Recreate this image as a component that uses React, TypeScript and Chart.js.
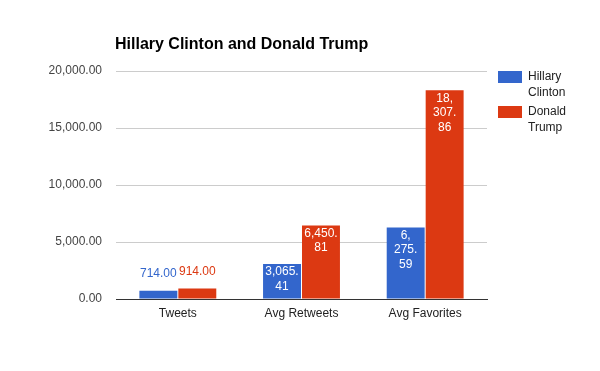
import React, { useEffect, useRef } from "react";
import { Chart, registerables } from "chart.js";

Chart.register(...registerables);

const categories = ["Tweets", "Avg Retweets", "Avg Favorites"];
const seriesNames = ["Hillary Clinton", "Donald Trump"];
const clintonValues = [714.0, 3065.41, 6275.59];
const trumpValues = [914.0, 6450.81, 18307.86];
const clintonLabelLines = [["714.00"], ["3,065.", "41"], ["6,", "275.", "59"]];
const trumpLabelLines = [["914.00"], ["6,450.", "81"], ["18,", "307.", "86"]];
const legendLines = [["Hillary", "Clinton"], ["Donald", "Trump"]];
const yTicks = [0, 5000, 10000, 15000, 20000];
const titleText = "Hillary Clinton and Donald Trump";
const colors = ["#3366cc", "#dc3912"];

const FONT = "Arial, 'Liberation Sans', sans-serif";
const TITLE_FONT = "Arial, 'Liberation Sans', sans-serif";

const fmt = (v: number) =>
  v.toLocaleString("en-US", { minimumFractionDigits: 2, maximumFractionDigits: 2 });

const overlayPlugin = {
  id: "overlay",
  afterDatasetsDraw(chart: any) {
    const ctx = chart.ctx;
    const area = chart.chartArea;
    ctx.save();
    // title
    ctx.font = `bold 16px ${TITLE_FONT}`;
    ctx.fillStyle = "#000";
    ctx.textAlign = "left";
    ctx.textBaseline = "middle";
    ctx.fillText(titleText, area.left - 1, 45);

    // data labels
    const allLines = [clintonLabelLines, trumpLabelLines];
    ctx.font = `12px ${FONT}`;
    ctx.textAlign = "center";
    chart.data.datasets.forEach((ds: any, di: number) => {
      const meta = chart.getDatasetMeta(di);
      meta.data.forEach((bar: any, i: number) => {
        const lines = allLines[di][i];
        const h = bar.base - bar.y;
        if (h > lines.length * 15 + 4) {
          ctx.fillStyle = "#fff";
          lines.forEach((ln: string, k: number) => {
            ctx.fillText(ln, bar.x, bar.y + 8 + k * 14.7);
          });
        } else {
          ctx.fillStyle = ds.backgroundColor;
          lines.forEach((ln: string, k: number) => {
            ctx.fillText(ln, bar.x, bar.y - 17 - (lines.length - 1 - k) * 14.7);
          });
        }
      });
    });

    // legend
    const lx = area.right + 11;
    ctx.textAlign = "left";
    ctx.font = `12px ${FONT}`;
    legendLines.forEach((lines, i) => {
      const top = area.top + i * 35;
      ctx.fillStyle = colors[i];
      ctx.fillRect(lx, top, 24, 12);
      ctx.fillStyle = "#222";
      lines.forEach((ln, k) => {
        ctx.fillText(ln, lx + 30, top + 6 + k * 15.5);
      });
    });
    ctx.restore();
  },
};

export default function App() {
  const ref = useRef<HTMLCanvasElement>(null);
  useEffect(() => {
    document.body.style.margin = "0";
    const chart = new Chart(ref.current!, {
      type: "bar",
      data: {
        labels: categories,
        datasets: [
          {
            label: seriesNames[0],
            data: clintonValues,
            backgroundColor: colors[0],
            categoryPercentage: 0.63,
            barPercentage: 0.974,
          },
          {
            label: seriesNames[1],
            data: trumpValues,
            backgroundColor: colors[1],
            categoryPercentage: 0.63,
            barPercentage: 0.974,
          },
        ],
      },
      options: {
        animation: false,
        responsive: false,
        maintainAspectRatio: false,
        layout: { padding: { top: 71, right: 113, left: 0, bottom: 0 } },
        plugins: {
          legend: { display: false },
          title: { display: false },
          tooltip: { enabled: false },
        },
        scales: {
          x: {
            grid: { display: false, drawTicks: false },
            border: { display: true, color: "#333" },
            ticks: { color: "#222", font: { family: FONT, size: 12 }, padding: 7 },
            afterFit(scale: any) {
              scale.height = 72;
            },
          },
          y: {
            min: 0,
            max: 20000,
            afterBuildTicks(scale: any) {
              scale.ticks = yTicks.map((v) => ({ value: v }));
            },
            grid: {
              drawTicks: false,
              color: (c: any) => (c.tick && c.tick.value === 0 ? "#333" : "#cccccc"),
            },
            border: { display: false },
            ticks: {
              color: "#444",
              font: { family: FONT, size: 12 },
              padding: 14,
              callback: (v: any) => fmt(Number(v)),
            },
            afterFit(scale: any) {
              scale.width = 116;
            },
          },
        },
      },
      plugins: [overlayPlugin],
    });
    return () => chart.destroy();
  }, []);
  return <canvas ref={ref} width={600} height={371} style={{ display: "block" }} />;
}
